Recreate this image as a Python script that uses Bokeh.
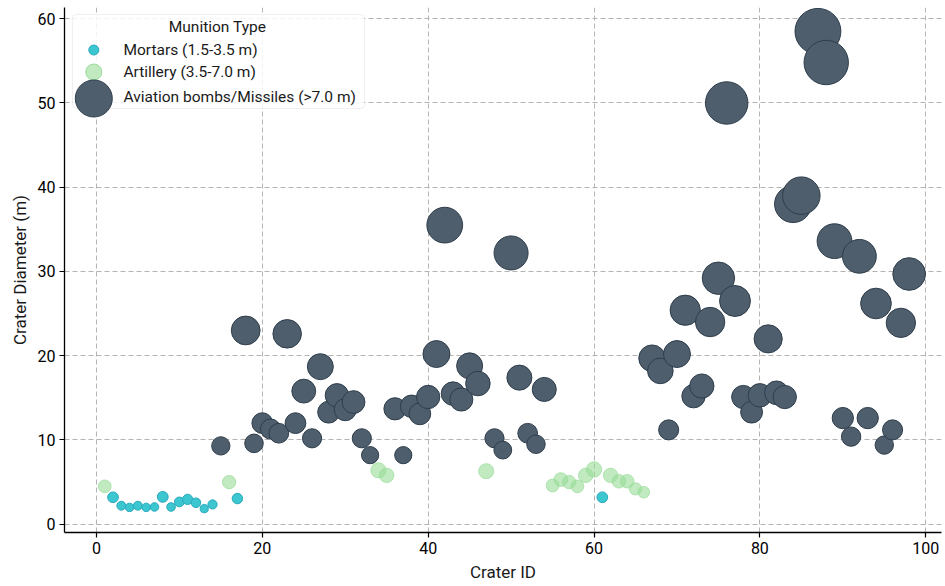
import numpy as np
from bokeh.plotting import figure
from bokeh.models import ColumnDataSource, Range1d, SingleIntervalTicker, BoxAnnotation, Label
from bokeh.embed import file_html
from bokeh.resources import INLINE

# Crater survey: crater id and measured diameter (m), grouped by munition class
mortar_ids = [2, 3, 4, 5, 6, 7, 8, 9, 10, 11, 12, 13, 14, 17, 61]
mortar_diam = [3.2, 2.2, 2.0, 2.2, 2.0, 2.05, 3.25, 2.05, 2.65, 2.95, 2.55, 1.85, 2.35, 3.05, 3.2]

artillery_ids = [1, 16, 34, 35, 47, 55, 56, 57, 58, 59, 60, 62, 63, 64, 65, 66]
artillery_diam = [4.5, 5.0, 6.4, 5.8, 6.3, 4.6, 5.3, 5.0, 4.5, 5.8, 6.5, 5.8, 5.1, 5.1, 4.2, 3.8]

aviation_ids = [15, 18, 19, 20, 21, 22, 23, 24, 25, 26, 27, 28, 29, 30, 31, 32, 33,
                36, 37, 38, 39, 40, 41, 42, 43, 44, 45, 46, 48, 49, 50, 51, 52, 53, 54,
                67, 68, 69, 70, 71, 72, 73, 74, 75, 76, 77, 78, 79, 80, 81, 82, 83,
                84, 85, 87, 88, 89, 90, 91, 92, 93, 94, 95, 96, 97, 98]
aviation_diam = [9.3, 23.0, 9.6, 12.0, 11.3, 10.8, 22.6, 12.0, 15.8, 10.2, 18.7, 13.3, 15.3, 13.6, 14.5, 10.2, 8.2,
                 13.7, 8.2, 14.0, 13.1, 15.1, 20.2, 35.5, 15.5, 14.8, 18.8, 16.7, 10.2, 8.8, 32.2, 17.4, 10.8, 9.5, 16.0,
                 19.7, 18.2, 11.2, 20.2, 25.4, 15.2, 16.4, 24.0, 29.2, 50.0, 26.5, 15.1, 13.3, 15.3, 22.0, 15.6, 15.1,
                 38.0, 39.0, 58.5, 54.8, 33.6, 12.6, 10.4, 31.8, 12.6, 26.2, 9.4, 11.2, 23.9, 29.7]

legend_title = "Munition Type"
class_labels = ["Mortars (1.5-3.5 m)", "Artillery (3.5-7.0 m)", "Aviation bombs/Missiles (>7.0 m)"]
x_ticks_step = 20
y_ticks_step = 10

FONT = "Roboto"
MARKER_SCALE = 6.0  # marker area grows with crater diameter

MORTAR = "#3CC6CF"
ARTILLERY = "#98DC98"
AVIATION = "#4F5E6C"


def source(ids, diam):
    d = np.asarray(diam, dtype=float)
    return ColumnDataSource(dict(x=ids, y=diam, s=MARKER_SCALE * np.sqrt(d)))


p = figure(width=945, height=586, output_backend="svg", toolbar_location=None,
           x_range=Range1d(-3.85, 101.9), y_range=Range1d(-0.98, 61.33),
           min_border_left=64, min_border_right=4, min_border_top=7, min_border_bottom=54)
p.outline_line_color = None
p.background_fill_color = "white"

# pixel-space helper ranges for the hand-built legend
p.extra_x_ranges["px"] = Range1d(64, 941)
p.extra_y_ranges["px"] = Range1d(532, 7)

p.scatter("x", "y", size="s", source=source(mortar_ids, mortar_diam),
          fill_color=MORTAR, line_color="#2AA9BE", line_width=1)
p.scatter("x", "y", size="s", source=source(artillery_ids, artillery_diam),
          fill_color=ARTILLERY, fill_alpha=0.6, line_color=ARTILLERY, line_alpha=0.7, line_width=1)
p.scatter("x", "y", size="s", source=source(aviation_ids, aviation_diam),
          fill_color=AVIATION, line_color="#2E3D4B", line_width=1)

# axes
p.xaxis.ticker = SingleIntervalTicker(interval=x_ticks_step)
p.yaxis.ticker = SingleIntervalTicker(interval=y_ticks_step)
p.xaxis.axis_label = "Crater ID"
p.yaxis.axis_label = "Crater Diameter (m)"
for ax in (p.xaxis, p.yaxis):
    ax.axis_line_color = "black"
    ax.axis_line_width = 1.3
    ax.major_tick_line_color = "black"
    ax.major_tick_line_width = 1.2
    ax.major_tick_out = 5
    ax.major_tick_in = 0
    ax.minor_tick_line_color = None
    ax.major_label_text_font = FONT
    ax.major_label_text_font_size = "16px"
    ax.major_label_text_color = "black"
    ax.axis_label_text_font = FONT
    ax.axis_label_text_font_size = "17px"
    ax.axis_label_text_font_style = "normal"
    ax.axis_label_text_color = "#1a1a1a"
    ax.major_label_standoff = 4
    ax.axis_label_standoff = 5

# grid
for g in (p.xgrid, p.ygrid):
    g.grid_line_color = "#b3b3b3"
    g.grid_line_dash = "5 3"
    g.grid_line_width = 1

# legend
box = BoxAnnotation(left=72, right=364, top=14, bottom=108,
                    x_range_name="px", y_range_name="px",
                    fill_color="white", fill_alpha=0.85,
                    line_color="#cccccc", line_width=1, border_radius=4)
p.add_layout(box)

p.add_layout(Label(x=217, y=26, x_range_name="px", y_range_name="px", text=legend_title,
                   text_align="center", text_baseline="middle",
                   text_font=FONT, text_font_size="15.5px", text_color="#1a1a1a"))

legend_rows = [
    (49.5, 10, MORTAR, "#2AA9BE", 1.0, 49.5),
    (71.5, 16, ARTILLERY, ARTILLERY, 0.6, 71.5),
    (98.0, 37, AVIATION, "#2E3D4B", 1.0, 96.0),
]
for (my, ms, fc, lc, fa, ty), lab in zip(legend_rows, class_labels):
    r = p.scatter([93.3], [my], size=ms, x_range_name="px", y_range_name="px",
                  fill_color=fc, fill_alpha=fa, line_color=lc, line_width=1)
    r.level = "overlay"
    p.add_layout(Label(x=123, y=ty, x_range_name="px", y_range_name="px", text=lab,
                       text_align="left", text_baseline="middle",
                       text_font=FONT, text_font_size="15.5px", text_color="#1a1a1a"))

open("out.html", "w").write(file_html(p, INLINE))
